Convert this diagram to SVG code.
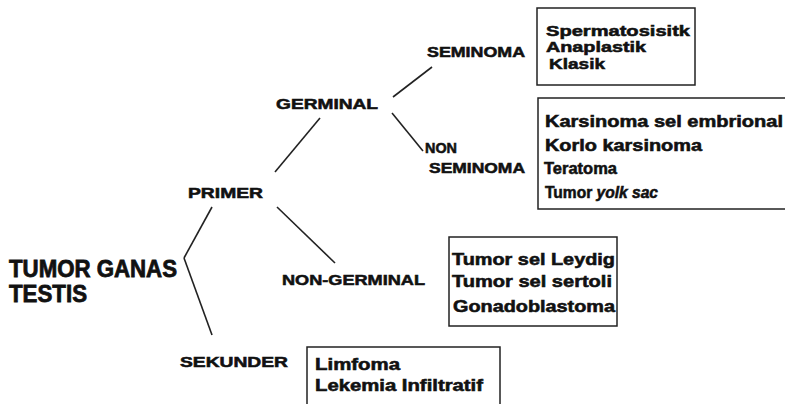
<svg xmlns="http://www.w3.org/2000/svg" width="785" height="404" viewBox="0 0 785 404">
  <style>
    text { font-family: "Liberation Sans", Arial, sans-serif; font-weight: bold; fill: #111; stroke: #111; stroke-width: 0.55; }
    .lbl { font-size: 15px; }
    .root { font-size: 24px; stroke-width: 0.8; }
    .item { font-size: 16px; }
    .small { font-size: 15px; }
    .box { fill: none; stroke: #222; stroke-width: 1.5; }
    .edge { stroke: #222; stroke-width: 1.6; fill: none; }
  </style>
  <rect width="785" height="404" fill="#fff"/>

  <!-- tree branches -->
  <g id="connectors">
    <line class="edge" x1="275" y1="172" x2="320" y2="118"/>
    <line class="edge" x1="393" y1="97" x2="432" y2="67"/>
    <line class="edge" x1="392" y1="113" x2="423" y2="151"/>
    <line class="edge" x1="212" y1="207" x2="184" y2="258"/>
    <line class="edge" x1="184" y1="258" x2="212" y2="335"/>
    <line class="edge" x1="277" y1="207" x2="335" y2="263"/>
  </g>

  <g id="tumor-ganas-testis">
    <text class="root" x="9" y="277" textLength="168" lengthAdjust="spacingAndGlyphs">TUMOR GANAS</text>
    <text class="root" x="9" y="302" textLength="78" lengthAdjust="spacingAndGlyphs">TESTIS</text>
  </g>

  <g id="primer">
    <text class="lbl" x="188" y="198" textLength="75" lengthAdjust="spacingAndGlyphs">PRIMER</text>
  </g>

  <g id="germinal">
    <text class="lbl" x="276" y="109" textLength="102" lengthAdjust="spacingAndGlyphs">GERMINAL</text>
  </g>

  <g id="seminoma">
    <text class="lbl" x="427" y="57" textLength="98" lengthAdjust="spacingAndGlyphs">SEMINOMA</text>
  </g>

  <g id="non-seminoma">
    <text class="lbl" x="425" y="153" textLength="32" lengthAdjust="spacingAndGlyphs">NON</text>
    <text class="lbl" x="429" y="173" textLength="96" lengthAdjust="spacingAndGlyphs">SEMINOMA</text>
  </g>

  <g id="non-germinal">
    <text class="lbl" x="282" y="285" textLength="143" lengthAdjust="spacingAndGlyphs">NON-GERMINAL</text>
  </g>

  <g id="sekunder">
    <text class="lbl" x="180" y="367" textLength="108" lengthAdjust="spacingAndGlyphs">SEKUNDER</text>
  </g>

  <g id="seminoma-types">
    <rect class="box" x="537" y="8" width="158" height="77"/>
    <text class="small" x="546" y="36" textLength="144" lengthAdjust="spacingAndGlyphs">Spermatosisitk</text>
    <text class="small" x="546" y="52" textLength="100" lengthAdjust="spacingAndGlyphs">Anaplastik</text>
    <text class="small" x="549" y="68.5" textLength="56" lengthAdjust="spacingAndGlyphs">Klasik</text>
  </g>

  <g id="non-seminoma-types">
    <rect class="box" x="538" y="98" width="251" height="111"/>
    <text class="item" x="545" y="127" textLength="238" lengthAdjust="spacingAndGlyphs">Karsinoma sel embrional</text>
    <text class="item" x="545" y="151" textLength="157" lengthAdjust="spacingAndGlyphs">Korlo karsinoma</text>
    <text class="item" x="544" y="174" textLength="73" lengthAdjust="spacingAndGlyphs">Teratoma</text>
    <text class="item" x="545" y="198" textLength="113" lengthAdjust="spacingAndGlyphs">Tumor <tspan font-style="italic">yolk sac</tspan></text>
  </g>

  <g id="non-germinal-types">
    <rect class="box" x="449" y="237" width="168" height="89"/>
    <text class="item" x="452" y="265" textLength="163" lengthAdjust="spacingAndGlyphs">Tumor sel Leydig</text>
    <text class="item" x="452" y="287" textLength="160" lengthAdjust="spacingAndGlyphs">Tumor sel sertoli</text>
    <text class="item" x="453" y="312" textLength="162" lengthAdjust="spacingAndGlyphs">Gonadoblastoma</text>
  </g>

  <g id="sekunder-types">
    <rect class="box" x="307" y="347" width="193" height="60"/>
    <text class="item" x="315" y="370" textLength="85" lengthAdjust="spacingAndGlyphs">Limfoma</text>
    <text class="item" x="315" y="391" textLength="168" lengthAdjust="spacingAndGlyphs">Lekemia Infiltratif</text>
  </g>
</svg>
